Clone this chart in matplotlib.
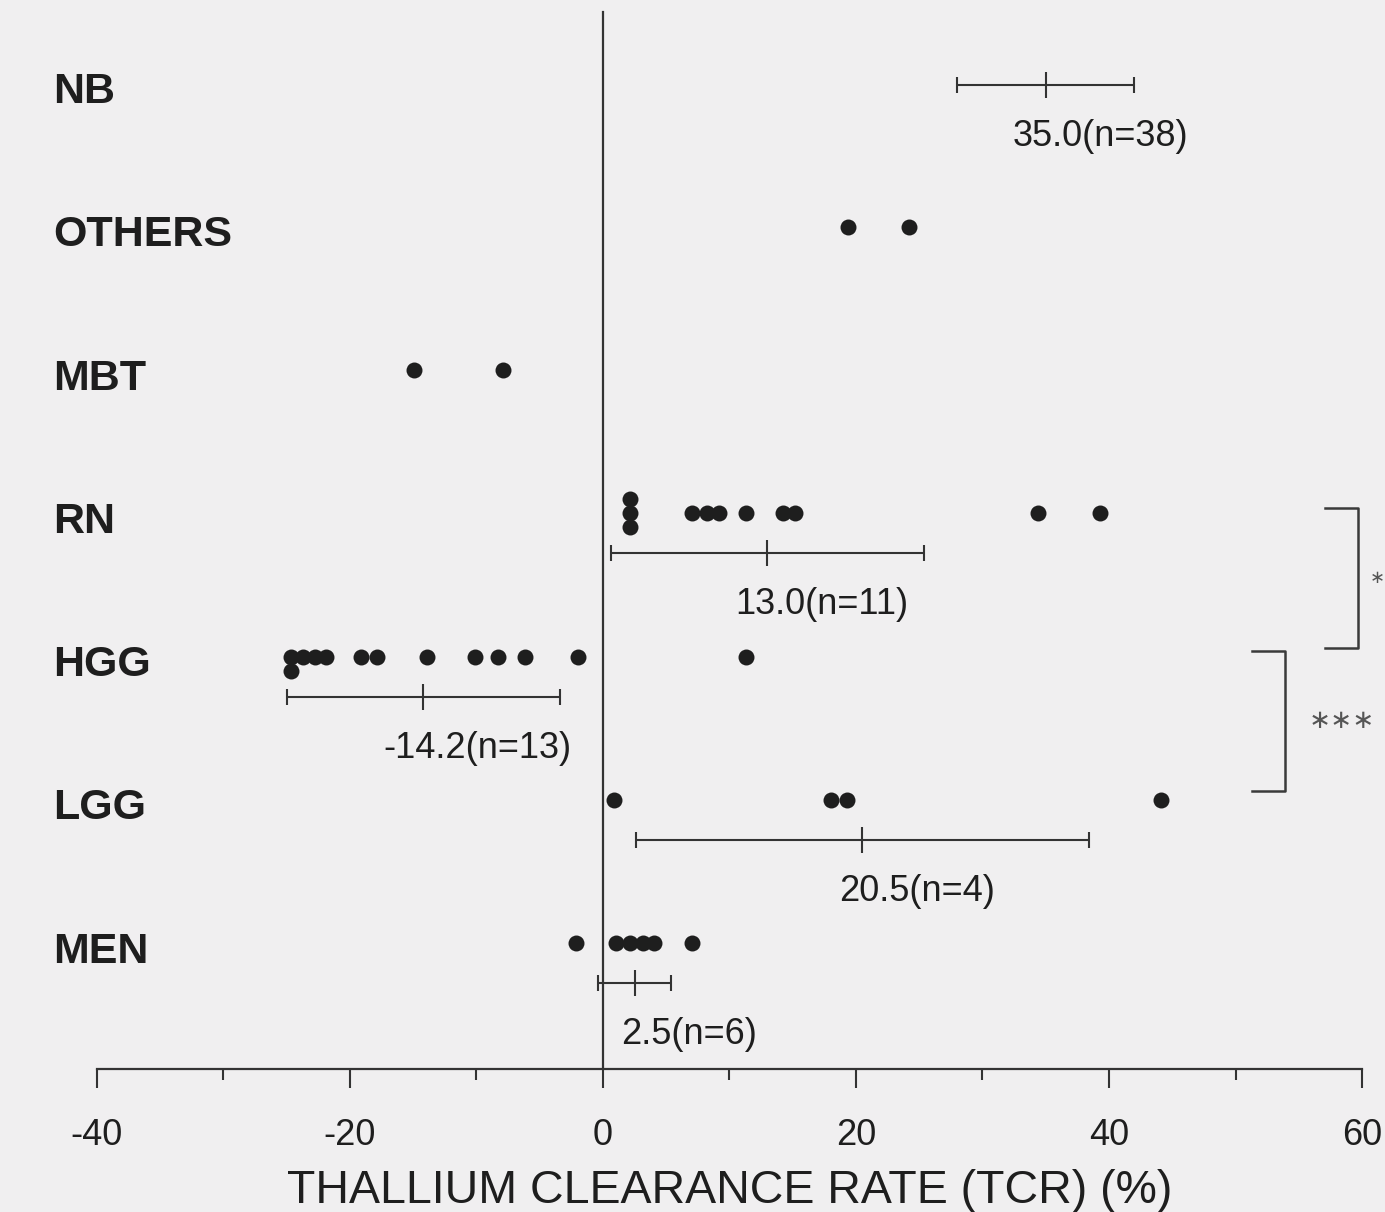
import numpy as np
import matplotlib.pyplot as plt
from matplotlib.ticker import MultipleLocator

# categories, top to bottom
groups = ['NB', 'OTHERS', 'MBT', 'RN', 'HGG', 'LGG', 'MEN']

# individual TCR values (%)
dots = {
    'NB': [],
    'OTHERS': [19.4, 24.2],
    'MBT': [-14.9, -7.9],
    'RN': [2.1, 2.1, 2.1, 7.0, 8.2, 9.2, 11.3, 14.2, 15.2, 34.4, 39.3],
    'HGG': [-24.7, -24.7, -23.7, -22.8, -21.9, -19.1, -17.9, -13.9,
            -10.1, -8.3, -6.2, -2.0, 11.3],
    'LGG': [0.9, 18.0, 19.3, 44.1],
    'MEN': [-2.1, 1.0, 2.1, 3.2, 4.0, 7.0],
}

# group mean, SD and n
means = {'NB': 35.0, 'RN': 13.0, 'HGG': -14.2, 'LGG': 20.5, 'MEN': 2.5}
sds = {'NB': 7.0, 'RN': 12.4, 'HGG': 10.8, 'LGG': 17.9, 'MEN': 2.9}
counts = {'NB': 38, 'RN': 11, 'HGG': 13, 'LGG': 4, 'MEN': 6}

# significance brackets (upper group, lower group, stars)
brackets = [('RN', 'HGG', '∗'), ('HGG', 'LGG', '∗∗∗')]

ink = '#1e1e1e'
bg = '#f0eff0'

fig = plt.figure(figsize=(13.85, 12.12), dpi=100, facecolor=bg)
ax = fig.add_axes([0.0700, 0.118, 0.9134, 0.882])
ax.set_facecolor('none')

ax.set_xlim(-40, 60)
ax.set_ylim(6.818, -0.642)

row = {g: i for i, g in enumerate(groups)}
step = 0.098

for g in groups:
    y = row[g]
    ax.text(-0.0348, y, g, transform=ax.get_yaxis_transform(), ha='left',
            va='center', fontsize=31, fontweight='bold',
            family='Liberation Sans', color=ink, clip_on=False)

    vals = dots[g]
    if vals:
        # stack repeated values vertically
        xs, ys = [], []
        uniq, cnt = np.unique(vals, return_counts=True)
        for v, k in zip(uniq, cnt):
            for j in range(k):
                xs.append(v)
                ys.append(y - 0.06 + (j - (k - 1) // 2) * step)
        ax.plot(xs, ys, 'o', color=ink, markersize=11.5, markeredgewidth=0,
                zorder=3)

    if g in means:
        shift = 0.0 if vals else -0.27
        ey = y + 0.22 + shift
        ax.errorbar(means[g], ey, xerr=sds[g], fmt='none', ecolor='#333333',
                    elinewidth=1.5, capsize=5.5, capthick=1.5)
        ax.plot(means[g], ey, marker='|', color='#333333', markersize=19,
                markeredgewidth=1.5)
        ax.text(means[g] + 4.3, y + 0.58 + shift,
                f'{means[g]:.1f}(n={counts[g]})', ha='center', va='center',
                fontsize=26, family='Liberation Sans', color=ink)

# brackets on the right
bx = [59.7, 53.9]
star_x = [60.6, 55.8]
star_size = [13, 19]
for (g1, g2, stars), x, sx, fs in zip(brackets, bx, star_x, star_size):
    y1 = row[g1] - 0.1
    y2 = row[g2] - 0.12
    ax.plot([x - 2.6, x, x, x - 2.6], [y1, y1, y2, y2], color='#3a3a3a',
            lw=1.8, clip_on=False)
    ax.text(sx, (y1 + y2) / 2, stars, ha='left', va='center',
            fontsize=fs, family='DejaVu Sans', color='#555555', clip_on=False)

# zero line
ax.axvline(0, ymin=0, ymax=0.989, color='#333333', lw=1.6)

for s in ['top', 'right', 'left']:
    ax.spines[s].set_visible(False)
ax.spines['bottom'].set_color('#333333')
ax.spines['bottom'].set_linewidth(1.6)
ax.set_yticks([])

ax.xaxis.set_major_locator(MultipleLocator(20))
ax.xaxis.set_minor_locator(MultipleLocator(10))
ax.tick_params(axis='x', which='major', length=14, width=1.5, pad=21,
               color='#333333', labelsize=26, labelcolor=ink)
ax.tick_params(axis='x', which='minor', length=8, width=1.5, color='#333333')
ax.set_xticks(np.arange(-40, 61, 20))
ax.set_xticklabels([f'{t:d}' for t in range(-40, 61, 20)],
                   family='Liberation Sans')

ax.set_xlabel('THALLIUM CLEARANCE RATE (TCR) (%)', fontsize=33.5,
              family='Liberation Sans', color=ink, labelpad=12)

fig.savefig('out.png', dpi=100, facecolor=bg)
